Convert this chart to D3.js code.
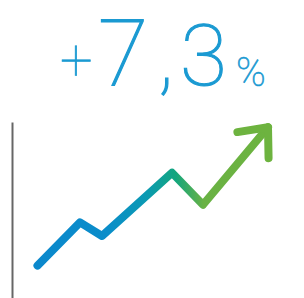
<!DOCTYPE html>
<html>
<head>
<meta charset="utf-8">
<script src="https://cdn.jsdelivr.net/npm/d3@7"></script>
<style>
  body { margin: 0; background: #fff; }
  svg { display: block; }
</style>
</head>
<body>
<div id="chart"></div>
<script>
// data
var steps = [3, 20, 28.8, 56.8, 69.2, 95.2];
var values = [9, 36, 27.5, 67, 47, 95.5];
var headline = ["+", "7", ",", "3", "%"];

var width = 304, height = 298;

var svg = d3.select("#chart")
  .append("svg")
    .attr("width", width)
    .attr("height", height);

var x = d3.scaleLinear().domain([0, 100]).range([30, 280]);
var y = d3.scaleLinear().domain([0, 100]).range([280, 120]);

var data = steps.map(function (d, i) { return {x: d, y: values[i]}; });

// gradient blue -> green
var grad = svg.append("defs").append("linearGradient")
  .attr("id", "lineGrad")
  .attr("gradientUnits", "userSpaceOnUse")
  .attr("x1", x(steps[0])).attr("x2", x(steps[steps.length - 1]))
  .attr("y1", 0).attr("y2", 0);
var stops = [[0, "#0b88cc"], [0.3, "#0a8dca"], [0.47, "#0a9ab3"], [0.6, "#13a67d"], [0.72, "#69b244"], [1, "#6db33f"]];
grad.selectAll("stop")
  .data(stops)
  .enter()
  .append("stop")
    .attr("offset", function (d) { return d[0]; })
    .attr("stop-color", function (d) { return d[1]; });

// vertical axis line
svg.append("g")
  .attr("transform", "translate(12,0)")
  .call(d3.axisLeft(d3.scaleLinear().domain([0, 1]).range([298, 122])).ticks(0).tickSize(0))
  .call(function (g) { g.select(".domain").attr("stroke", "#666").attr("stroke-width", 2); });

var line = d3.line()
  .x(function (d) { return x(d.x); })
  .y(function (d) { return y(d.y); });

svg.append("path")
  .datum(data)
  .attr("d", line)
  .attr("fill", "none")
  .attr("stroke", "url(#lineGrad)")
  .attr("stroke-width", 8)
  .attr("stroke-linecap", "round")
  .attr("stroke-linejoin", "round");

// arrow head at the last point
var p1 = data[data.length - 2], p2 = data[data.length - 1];
var tx = x(p2.x), ty = y(p2.y);
var ang = Math.atan2(ty - y(p1.y), tx - x(p1.x));
var arm = 31, spread = 41 * Math.PI / 180;
var head = [
  [tx - arm * Math.cos(ang - spread), ty - arm * Math.sin(ang - spread)],
  [tx, ty],
  [tx - arm * Math.cos(ang + spread), ty - arm * Math.sin(ang + spread)]
];
svg.append("path")
  .attr("d", d3.line()(head))
  .attr("fill", "none")
  .attr("stroke", "#6db33f")
  .attr("stroke-width", 8)
  .attr("stroke-linecap", "round")
  .attr("stroke-linejoin", "round");

// headline text, one glyph per element
var sizes = [58, 92, 86, 86, 40];
var xs = [60, 98, 158, 180, 236];
var ys = [80, 85.5, 85, 85, 86];
var strokes = [0.6, 1.2, 1.2, 1.1, 0.6];
svg.append("g")
  .selectAll("text")
  .data(headline)
  .enter()
  .append("text")
    .attr("x", function (d, i) { return xs[i]; })
    .attr("y", function (d, i) { return ys[i]; })
    .attr("fill", "#1b9ad2")
    .attr("stroke", "#1b9ad2")
    .attr("stroke-width", function (d, i) { return strokes[i]; })
    .style("font-family", "Roboto, 'DejaVu Sans', sans-serif")
    .style("font-weight", 100)
    .style("font-size", function (d, i) { return sizes[i] + "px"; })
    .text(function (d) { return d; });
</script>
</body>
</html>
